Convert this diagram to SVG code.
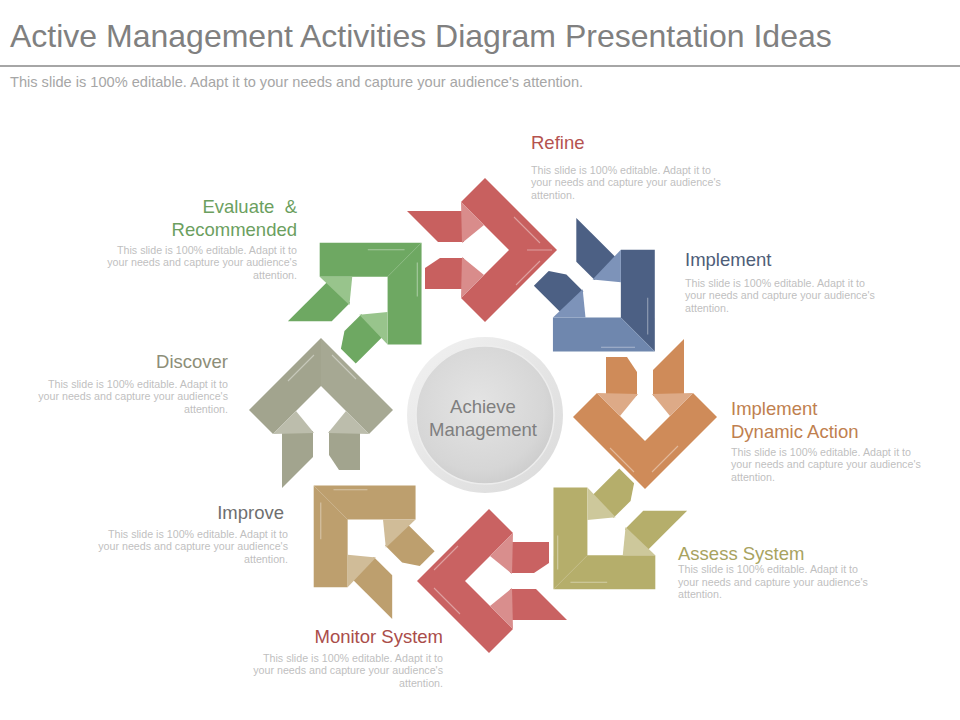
<svg xmlns="http://www.w3.org/2000/svg" width="960" height="720" viewBox="0 0 960 720">
<style>
text{font-family:"Liberation Sans",Arial,sans-serif}
.title{font-size:32px;fill:#808080}
.sub{font-size:14.6px;fill:#A6A6A6}
.lbl{font-size:18.5px}
.desc{font-size:10.7px;fill:#BFBFBF}
.hl{stroke:#FFFFFF;stroke-opacity:0.4;stroke-width:1.1;fill:none}
#refine .m,#refine .m2{fill:#C8605F} #refine .f{fill:#D98C8B}
#implement .m{fill:#4C6084} #implement .m2{fill:#6F87AE} #implement .f{fill:#7D93B9}
#dynamic .m,#dynamic .m2{fill:#CF8B59} #dynamic .f{fill:#DDAA87}
#assess .m,#assess .m2{fill:#B5AE6B} #assess .f{fill:#CDC89B}
#monitor .m,#monitor .m2{fill:#C96262} #monitor .f{fill:#D98E8D}
#improve .m,#improve .m2{fill:#BD9F6E} #improve .f{fill:#D0BC98}
#discover .m{fill:#A2A48E} #discover .m2{fill:#A6A893} #discover .f{fill:#BCBDAC}
#evaluate .m,#evaluate .m2{fill:#6EA862} #evaluate .f{fill:#98C48C}
</style>
<defs>
<linearGradient id="ring" x1="0" y1="0" x2="1" y2="1">
<stop offset="0" stop-color="#F2F2F2"/><stop offset="1" stop-color="#DADADA"/>
</linearGradient>
<radialGradient id="disc" cx="0.45" cy="0.42" r="0.6">
<stop offset="0" stop-color="#E4E4E4"/><stop offset="0.8" stop-color="#D6D6D6"/><stop offset="1" stop-color="#CDCDCD"/>
</radialGradient>
</defs>
<rect width="960" height="720" fill="#FFFFFF"/>
<text class="title" x="10" y="47">Active Management Activities Diagram Presentation Ideas</text>
<line x1="0" y1="66" x2="960" y2="66" stroke="#A6A6A6" stroke-width="2"/>
<text class="sub" x="10" y="87">This slide is 100% editable. Adapt it to your needs and capture your audience's attention.</text>

<g id="connectors"></g>

<g id="refine">
<polygon class="m" points="407,211 464,211 464,242 438,242"/>
<polygon class="m" points="440,258 464,258 464,289 425,289 425,268"/>
<polygon class="m" points="485,178 557,250 509,250 461,202"/>
<polygon class="m2" points="557,250 485,322 461,298 509,250"/>
<polygon class="f" points="461,202 484,225 462,243"/>
<polygon class="f" points="461,298 484,275 462,257"/>
<path class="hl" d="M514,217 L540,243 M516,285 L540,261 M527,250 L552,250"/>
</g>
<g id="implement" transform="translate(1.5,2) rotate(45 485 416)">
<polygon class="m" points="407,211 464,211 464,242 438,242"/>
<polygon class="m" points="440,258 464,258 464,289 425,289 425,268"/>
<polygon class="m" points="485,178 557,250 509,250 461,202"/>
<polygon class="m2" points="557,250 485,322 461,298 509,250"/>
<polygon class="f" points="461,202 484,225 462,243"/>
<polygon class="f" points="461,298 484,275 462,257"/>
<path class="hl" d="M514,217 L540,243 M516,285 L540,261"/>
</g>
<g id="dynamic" transform="translate(-6,1) rotate(90 485 416)">
<polygon class="m" points="407,211 464,211 464,242 438,242"/>
<polygon class="m" points="440,258 464,258 464,289 425,289 425,268"/>
<polygon class="m" points="485,178 557,250 509,250 461,202"/>
<polygon class="m2" points="557,250 485,322 461,298 509,250"/>
<polygon class="f" points="461,202 484,225 462,243"/>
<polygon class="f" points="461,298 484,275 462,257"/>
<path class="hl" d="M514,217 L540,243 M516,285 L540,261"/>
</g>
<g id="assess" transform="translate(2,5) rotate(135 485 416)">
<polygon class="m" points="407,211 464,211 464,242 438,242"/>
<polygon class="m" points="440,258 464,258 464,289 425,289 425,268"/>
<polygon class="m" points="485,178 557,250 509,250 461,202"/>
<polygon class="m2" points="557,250 485,322 461,298 509,250"/>
<polygon class="f" points="461,202 484,225 462,243"/>
<polygon class="f" points="461,298 484,275 462,257"/>
<path class="hl" d="M514,217 L540,243 M516,285 L540,261"/>
</g>
<g id="monitor" transform="translate(4,-1) rotate(180 485 416)">
<polygon class="m" points="407,211 464,211 464,242 438,242"/>
<polygon class="m" points="440,258 464,258 464,289 425,289 425,268"/>
<polygon class="m" points="485,178 557,250 509,250 461,202"/>
<polygon class="m2" points="557,250 485,322 461,298 509,250"/>
<polygon class="f" points="461,202 484,225 462,243"/>
<polygon class="f" points="461,298 484,275 462,257"/>
<path class="hl" d="M514,217 L540,243 M516,285 L540,261"/>
</g>
<g id="improve" transform="translate(-3,3) rotate(225 485 416)">
<polygon class="m" points="407,211 464,211 464,242 438,242"/>
<polygon class="m" points="440,258 464,258 464,289 425,289 425,268"/>
<polygon class="m" points="485,178 557,250 509,250 461,202"/>
<polygon class="m2" points="557,250 485,322 461,298 509,250"/>
<polygon class="f" points="461,202 484,225 462,243"/>
<polygon class="f" points="461,298 484,275 462,257"/>
<path class="hl" d="M514,217 L540,243 M516,285 L540,261"/>
</g>
<g id="discover" transform="translate(2,-6) rotate(270 485 416)">
<polygon class="m" points="407,211 464,211 464,242 438,242"/>
<polygon class="m" points="440,258 464,258 464,289 425,289 425,268"/>
<polygon class="m" points="485,178 557,250 509,250 461,202"/>
<polygon class="m2" points="557,250 485,322 461,298 509,250"/>
<polygon class="f" points="461,202 484,225 462,243"/>
<polygon class="f" points="461,298 484,275 462,257"/>
<path class="hl" d="M514,217 L540,243 M516,285 L540,261"/>
</g>
<g id="evaluate" transform="translate(3,-5) rotate(315 485 416)">
<polygon class="m" points="407,211 464,211 464,242 438,242"/>
<polygon class="m" points="440,258 464,258 464,289 425,289 425,268"/>
<polygon class="m" points="485,178 557,250 509,250 461,202"/>
<polygon class="m2" points="557,250 485,322 461,298 509,250"/>
<polygon class="f" points="461,202 484,225 462,243"/>
<polygon class="f" points="461,298 484,275 462,257"/>
<path class="hl" d="M514,217 L540,243 M516,285 L540,261"/>
</g>

<g id="center">
<circle cx="485" cy="415" r="78" fill="url(#ring)"/>
<circle cx="485" cy="415" r="69" fill="url(#disc)" stroke="#EDEDED" stroke-width="1.5"/>
<text class="lbl" x="483" y="413" text-anchor="middle" fill="#7F7F7F">Achieve</text>
<text class="lbl" x="483" y="436" text-anchor="middle" fill="#7F7F7F">Management</text>
</g>

<g id="label-refine">
<text class="lbl" x="531" y="149" fill="#B5534F">Refine</text>
<text class="desc" x="531" y="173.5">This slide is 100% editable.  Adapt it to</text>
<text class="desc" x="531" y="186">your needs and capture your audience's</text>
<text class="desc" x="531" y="198.5">attention.</text>
</g>
<g id="label-implement">
<text class="lbl" x="685" y="266" fill="#4E5D78">Implement</text>
<text class="desc" x="685" y="286.5">This slide is 100% editable.  Adapt it to</text>
<text class="desc" x="685" y="299">your needs and capture your audience's</text>
<text class="desc" x="685" y="311.5">attention.</text>
</g>
<g id="label-dynamic">
<text class="lbl" x="731" y="415" fill="#C0804F">Implement</text>
<text class="lbl" x="731" y="438" fill="#C0804F">Dynamic Action</text>
<text class="desc" x="731" y="455.5">This slide is 100% editable.  Adapt it to</text>
<text class="desc" x="731" y="468">your needs and capture your audience's</text>
<text class="desc" x="731" y="480.5">attention.</text>
</g>
<g id="label-assess">
<text class="lbl" x="678" y="560" fill="#A8A35F">Assess System</text>
<text class="desc" x="678" y="573">This slide is 100% editable.  Adapt it to</text>
<text class="desc" x="678" y="585.5">your needs and capture your audience's</text>
<text class="desc" x="678" y="598">attention.</text>
</g>
<g id="label-monitor" text-anchor="end">
<text class="lbl" x="443" y="643" fill="#AA4D4A">Monitor System</text>
<text class="desc" x="443" y="661.5">This slide is 100% editable.  Adapt it to</text>
<text class="desc" x="443" y="674">your needs and capture your audience's</text>
<text class="desc" x="443" y="686.5">attention.</text>
</g>
<g id="label-improve" text-anchor="end">
<text class="lbl" x="284" y="519" fill="#6F6F6F">Improve</text>
<text class="desc" x="288" y="537.5">This slide is 100% editable.  Adapt it to</text>
<text class="desc" x="288" y="550">your needs and capture your audience's</text>
<text class="desc" x="288" y="562.5">attention.</text>
</g>
<g id="label-discover" text-anchor="end">
<text class="lbl" x="228" y="368" fill="#8D8E78">Discover</text>
<text class="desc" x="228" y="387.5">This slide is 100% editable.  Adapt it to</text>
<text class="desc" x="228" y="400">your needs and capture your audience's</text>
<text class="desc" x="228" y="412.5">attention.</text>
</g>
<g id="label-evaluate" text-anchor="end">
<text class="lbl" x="297" y="213" fill="#6C9F5F" xml:space="preserve">Evaluate  &amp;</text>
<text class="lbl" x="297" y="236" fill="#6C9F5F">Recommended</text>
<text class="desc" x="297" y="253.5">This slide is 100% editable.  Adapt it to</text>
<text class="desc" x="297" y="266">your needs and capture your audience's</text>
<text class="desc" x="297" y="278.5">attention.</text>
</g>
</svg>
